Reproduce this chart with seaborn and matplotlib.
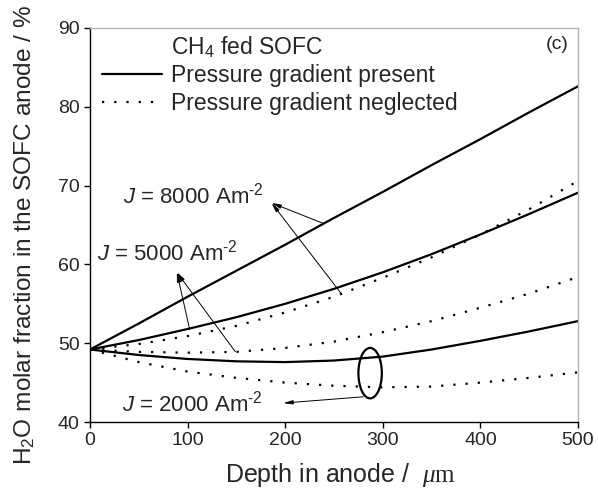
import matplotlib
matplotlib.use("Agg")
import matplotlib.pyplot as plt
from matplotlib.lines import Line2D
from matplotlib.patches import Ellipse
import seaborn as sns
import pandas as pd

# data
depth = [0, 50, 100, 150, 200, 250, 300, 350, 400, 450, 500]  # um

j8000_present = [49.2, 52.5, 55.9, 59.2, 62.5, 65.9, 69.2, 72.6, 75.9, 79.3, 82.6]
j8000_neglected = [49.2, 49.9, 50.9, 52.2, 53.9, 55.9, 58.3, 60.9, 63.8, 67.0, 70.6]
j5000_present = [49.2, 50.4, 51.8, 53.3, 55.0, 56.9, 59.0, 61.3, 63.8, 66.4, 69.1]
j5000_neglected = [49.2, 48.9, 48.8, 48.9, 49.4, 50.2, 51.4, 52.8, 54.5, 56.3, 58.4]
j2000_present = [49.2, 48.5, 48.0, 47.7, 47.6, 47.8, 48.3, 49.2, 50.3, 51.5, 52.8]
j2000_neglected = [49.2, 47.6, 46.4, 45.6, 45.0, 44.6, 44.4, 44.5, 45.0, 45.6, 46.3]

xticks = [0, 100, 200, 300, 400, 500]
yticks = [40, 50, 60, 70, 80, 90]

curves = {
    ("8000", "present"): j8000_present,
    ("8000", "neglected"): j8000_neglected,
    ("5000", "present"): j5000_present,
    ("5000", "neglected"): j5000_neglected,
    ("2000", "present"): j2000_present,
    ("2000", "neglected"): j2000_neglected,
}
rows = []
for (j, case), vals in curves.items():
    for d, v in zip(depth, vals):
        rows.append({"depth": d, "frac": v, "J": j, "case": case})
df = pd.DataFrame(rows)

sns.set_style("ticks")
plt.rcParams['font.family'] = ['Liberation Sans', 'DejaVu Sans']
plt.rcParams['mathtext.fontset'] = 'custom'
plt.rcParams['mathtext.rm'] = 'Liberation Sans'
plt.rcParams['mathtext.it'] = 'Liberation Sans:italic'
plt.rcParams['mathtext.sf'] = 'Liberation Sans'
plt.rcParams['mathtext.cal'] = 'Liberation Serif:italic'
plt.rcParams['mathtext.bf'] = 'Liberation Serif'

fig = plt.figure(figsize=(5.98, 4.97), dpi=100)
ax = fig.add_axes([0.1505, 0.1509, 0.8161, 0.7928])

dot = (1, 4.5)
sns.lineplot(data=df, x="depth", y="frac", hue="J", style="case",
             palette={"8000": "black", "5000": "black", "2000": "black"},
             dashes={"present": "", "neglected": dot},
             estimator=None, sort=False, lw=1.6, legend=False, ax=ax)

ax.set_xlim(0, 500)
ax.set_ylim(40, 90)
ax.set_xticks(xticks)
ax.set_yticks(yticks)
ax.tick_params(labelsize=14, direction='out', length=4, width=1, color='black')
for s in ['left', 'bottom']:
    ax.spines[s].set_color('black')
    ax.spines[s].set_linewidth(1)
for s in ['top', 'right']:
    ax.spines[s].set_color('#b4b4b4')
    ax.spines[s].set_linewidth(1)

ax.set_xlabel(r"Depth in anode /  $\mathcal{\mu}\mathbf{m}$", fontsize=18)
ax.set_ylabel(r"H$_\mathsf{2}$O molar fraction in the SOFC anode / %", fontsize=17.6)
ax.xaxis.set_label_coords(0.514, -0.1)
ax.yaxis.set_label_coords(-0.108, 0.475)

# legend with the title as a blank entry
handles = [Line2D([], [], color='none'),
           Line2D([], [], color='black', lw=1.6),
           Line2D([], [], color='black', lw=1.6, linestyle=(0, dot))]
labels = [r"CH$_\mathsf{4}$ fed SOFC", "Pressure gradient present", "Pressure gradient neglected"]
ax.legend(handles, labels, loc='upper left', bbox_to_anchor=(0.025, 0.985),
          frameon=False, fontsize=16.5, handlelength=2.6, handletextpad=0.4,
          labelspacing=0.2, borderpad=0, borderaxespad=0)

ax.text(0.98, 0.957, "(c)", transform=ax.transAxes, ha='right', va='center', fontsize=14)

# J labels and arrows
fs = 16
ax.text(34, 67.7, r"$\mathit{J}$ = 8000 Am$^{\text{-2}}$", fontsize=fs, va='baseline')
ax.text(7, 60.55, r"$\mathit{J}$ = 5000 Am$^{\text{-2}}$", fontsize=fs, va='baseline')
ax.text(33, 41.3, r"$\mathit{J}$ = 2000 Am$^{\text{-2}}$", fontsize=fs, va='baseline')

arr = dict(arrowstyle='-|>,head_length=0.55,head_width=0.12', color='black', lw=0.7,
           shrinkA=0, shrinkB=0)
ax.annotate("", xy=(186, 67.8), xytext=(239, 65.2), arrowprops=arr)
ax.annotate("", xy=(186, 67.8), xytext=(258, 56.2), arrowprops=arr)
ax.annotate("", xy=(89, 59.0), xytext=(102, 51.8), arrowprops=arr)
ax.annotate("", xy=(89, 59.0), xytext=(149, 48.9), arrowprops=arr)
ax.annotate("", xy=(198, 42.4), xytext=(280, 43.2), arrowprops=arr)

ax.add_patch(Ellipse((287, 46.2), 24, 6.4, fill=False, ec='black', lw=1.6))

fig.savefig("out.png", dpi=100)
